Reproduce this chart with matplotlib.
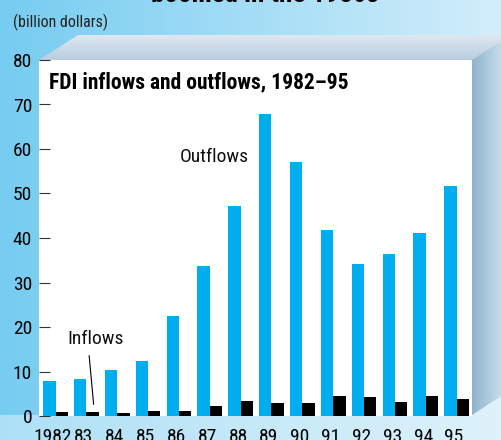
import numpy as np
import matplotlib
matplotlib.use('Agg')
import matplotlib.pyplot as plt
from matplotlib.patches import Polygon

years = ['1982', '83', '84', '85', '86', '87', '88', '89', '90', '91', '92', '93', '94', '95']
outflows = [7.9, 8.3, 10.4, 12.4, 22.5, 33.6, 47.1, 67.8, 57.0, 41.7, 34.2, 36.3, 41.2, 51.6]
inflows = [0.9, 0.9, 0.7, 1.1, 1.1, 2.3, 3.4, 2.9, 2.9, 4.5, 4.3, 3.2, 4.5, 3.8]
yticks = [0, 10, 20, 30, 40, 50, 60, 70, 80]

FONT = ['Roboto Condensed', 'Liberation Sans Narrow', 'Liberation Sans', 'DejaVu Sans']
plt.rcParams['font.family'] = FONT

W, H = 501, 440
fig = plt.figure(figsize=(W / 100, H / 100), dpi=100)

# background layer in pixel coordinates
bg = fig.add_axes([0, 0, 1, 1])
bg.set_xlim(0, W)
bg.set_ylim(H, 0)
bg.axis('off')


def grad(c1, c2, n=256, vertical=False):
    c1 = np.array(matplotlib.colors.to_rgb(c1))
    c2 = np.array(matplotlib.colors.to_rgb(c2))
    t = np.linspace(0, 1, n)
    g = c1[None, :] * (1 - t[:, None]) + c2[None, :] * t[:, None]
    if vertical:
        return g[:, None, :]
    return g[None, :, :]


bg.imshow(grad('#76ccf1', '#d3eefb'), extent=[0, W, H, 0], aspect='auto', zorder=0)


def grad_poly(pts, c1, c2, vertical=False):
    poly = Polygon(pts, closed=True, facecolor='none', edgecolor='none')
    bg.add_patch(poly)
    xs = [p[0] for p in pts]
    ys = [p[1] for p in pts]
    im = bg.imshow(grad(c1, c2, vertical=vertical),
                   extent=[min(xs), max(xs), max(ys), min(ys)], aspect='auto', zorder=1)
    im.set_clip_path(poly)


# floor, top bevel, right bevel
grad_poly([(0, 415), (472, 415), (501, 396), (501, 440), (0, 440)], '#ade0f6', '#def2fb')
grad_poly([(39, 60), (78, 35), (501, 35), (501, 41), (472, 60)], '#dfe8f1', '#b8cedf', vertical=True)
grad_poly([(472, 60), (501, 41), (501, 396), (472, 415)], '#8fb3cc', '#c6dcec')

bg.text(264.5, 2.5, 'boomed in the 1980s', ha='center', va='baseline',
        fontsize=19.5, fontweight='bold', color='black')
bg.text(13, 27, '(billion dollars)', ha='left', va='baseline', fontsize=11.5, color='#222222')

ax = fig.add_axes([39 / W, (H - 416) / H, (472 - 39) / W, (416 - 60) / H])
ax.set_facecolor('white')
x = np.arange(len(years))
ax.bar(x - 0.2, outflows, width=0.4, color='#00aeef', zorder=2)
ax.bar(x + 0.2, inflows, width=0.4, color='black', zorder=2)
ax.set_xlim(-0.535, 13.5)
ax.set_ylim(0, 80)
ax.set_yticks(yticks)
ax.set_xticks(x - 0.08)
ax.set_xticklabels(years)
for s in ax.spines.values():
    s.set_visible(False)
ax.tick_params(axis='y', direction='in', length=8, width=0.8, color='#333333',
               labelsize=14, pad=5)
ax.tick_params(axis='x', length=0, labelsize=14, pad=8.5)
for lab in ax.get_yticklabels() + ax.get_xticklabels():
    lab.set_zorder(5)
for tk in ax.yaxis.get_major_ticks():
    tk.tick1line.set_zorder(5)

ax.text(10 / 433, (416 - 88) / 356, 'FDI inflows and outflows, 1982\u201395',
        transform=ax.transAxes, fontsize=15.5, fontweight='bold', ha='left', va='baseline')
ax.text(5.14, 58.1, 'Outflows', fontsize=14, ha='center', va='center', color='#111111')
ax.text(1.29, 17.4, 'Inflows', fontsize=14, ha='center', va='center', color='#111111')
ax.annotate('', xy=(1.244, 2.0), xytext=(1.082, 14.2),
            arrowprops=dict(arrowstyle='-', color='black', lw=0.8))

fig.savefig('out.png', dpi=100)
